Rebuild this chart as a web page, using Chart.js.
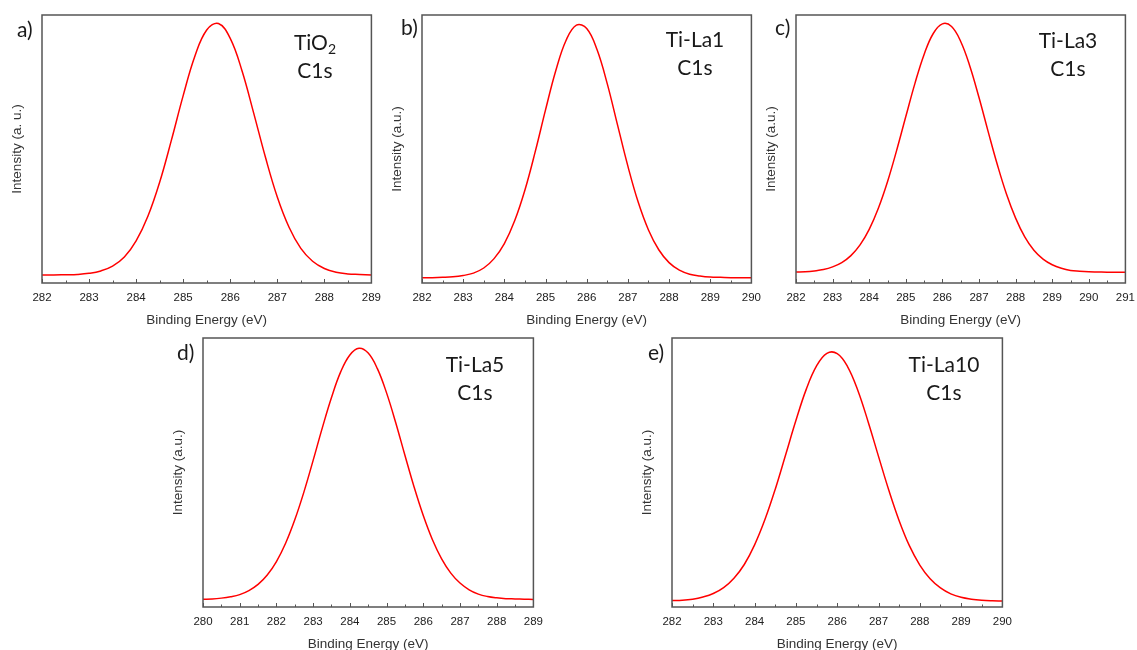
<!DOCTYPE html>
<html>
<head>
<meta charset="utf-8">
<script src="https://cdn.jsdelivr.net/npm/chart.js@4.4.1/dist/chart.umd.min.js"></script>
<style>
  body { margin: 0; width: 1137px; height: 650px; overflow: hidden; background: #fff; position: relative; }
  canvas { position: absolute; }
  .lbl { position: absolute; font-family: Lato, "Open Sans", sans-serif; font-size: 21px; line-height: 28px; color: #1a1a1a; white-space: nowrap; }
  .name { transform: translateX(-50%); text-align: center; }
  sub { font-size: 14px; vertical-align: -4px; line-height: 0; }
</style>
</head>
<body>
<canvas id="c0" width="389" height="335" style="left:0px;top:0px"></canvas>
<canvas id="c1" width="389" height="335" style="left:380px;top:0px"></canvas>
<canvas id="c2" width="389" height="335" style="left:754px;top:0px"></canvas>
<canvas id="c3" width="390" height="336" style="left:161px;top:323px"></canvas>
<canvas id="c4" width="390" height="336" style="left:630px;top:323px"></canvas>

<div class="lbl" style="left:17px;top:15px">a)</div>
<div class="lbl" style="left:401px;top:13px">b)</div>
<div class="lbl" style="left:775px;top:13px">c)</div>
<div class="lbl" style="left:177px;top:338px">d)</div>
<div class="lbl" style="left:648px;top:338px">e)</div>

<div class="lbl name" style="left:315px;top:28px">TiO<sub>2</sub><br>C1s</div>
<div class="lbl name" style="left:695px;top:25px">Ti-La1<br>C1s</div>
<div class="lbl name" style="left:1068px;top:26px">Ti-La3<br>C1s</div>
<div class="lbl name" style="left:475px;top:350px">Ti-La5<br>C1s</div>
<div class="lbl name" style="left:944px;top:350px">Ti-La10<br>C1s</div>

<script>
// binding energy grids (eV)
var energy282_289 = [282,282.25,282.5,282.75,283,283.25,283.5,283.75,284,284.25,284.5,284.75,285,285.25,285.5,285.75,286,286.25,286.5,286.75,287,287.25,287.5,287.75,288,288.25,288.5,288.75,289];
var energy282_290 = [282,282.25,282.5,282.75,283,283.25,283.5,283.75,284,284.25,284.5,284.75,285,285.25,285.5,285.75,286,286.25,286.5,286.75,287,287.25,287.5,287.75,288,288.25,288.5,288.75,289,289.25,289.5,289.75,290];
var energy282_291 = [282,282.25,282.5,282.75,283,283.25,283.5,283.75,284,284.25,284.5,284.75,285,285.25,285.5,285.75,286,286.25,286.5,286.75,287,287.25,287.5,287.75,288,288.25,288.5,288.75,289,289.25,289.5,289.75,290,290.25,290.5,290.75,291];
var energy280_289 = [280,280.25,280.5,280.75,281,281.25,281.5,281.75,282,282.25,282.5,282.75,283,283.25,283.5,283.75,284,284.25,284.5,284.75,285,285.25,285.5,285.75,286,286.25,286.5,286.75,287,287.25,287.5,287.75,288,288.25,288.5,288.75,289];

// C1s intensity (normalised, a.u.)
var tio2 = [0.030,0.030,0.031,0.032,0.036,0.045,0.063,0.097,0.157,0.249,0.376,0.533,0.699,0.847,0.944,0.968,0.913,0.792,0.633,0.468,0.321,0.208,0.129,0.081,0.054,0.040,0.034,0.032,0.030];
var tiLa1 = [0.020,0.020,0.021,0.023,0.028,0.037,0.056,0.091,0.147,0.232,0.347,0.490,0.646,0.793,0.906,0.962,0.950,0.871,0.743,0.589,0.436,0.302,0.198,0.124,0.076,0.048,0.033,0.026,0.022,0.021,0.020,0.020,0.020];
var tiLa3 = [0.041,0.042,0.045,0.050,0.060,0.076,0.102,0.142,0.200,0.279,0.378,0.495,0.621,0.745,0.853,0.931,0.967,0.957,0.901,0.809,0.692,0.565,0.442,0.332,0.242,0.172,0.122,0.089,0.068,0.055,0.047,0.044,0.042,0.041,0.040,0.040,0.040];
var tiLa5 = [0.029,0.030,0.033,0.038,0.046,0.061,0.084,0.119,0.169,0.237,0.324,0.428,0.545,0.666,0.779,0.874,0.937,0.962,0.944,0.886,0.796,0.685,0.564,0.446,0.340,0.250,0.179,0.126,0.089,0.064,0.048,0.039,0.034,0.031,0.030,0.029,0.028];
var tiLa10 = [0.024,0.025,0.029,0.037,0.050,0.072,0.107,0.158,0.231,0.325,0.438,0.565,0.693,0.809,0.896,0.943,0.942,0.894,0.805,0.688,0.560,0.434,0.321,0.227,0.156,0.105,0.071,0.049,0.036,0.029,0.025,0.023,0.022];

var axisMin = [282, 282, 282, 280, 282];
var axisMax = [289, 290, 291, 289, 290];
var yTitles = ['Intensity (a. u.)', 'Intensity (a.u.)', 'Intensity (a.u.)', 'Intensity (a.u.)', 'Intensity (a.u.)'];

var panels = [
  [energy282_289, tio2],
  [energy282_290, tiLa1],
  [energy282_291, tiLa3],
  [energy280_289, tiLa5],
  [energy282_290, tiLa10]
];

// box + inward ticks on the bottom axis
var frame = {
  id: 'frame',
  afterDatasetsDraw: function(chart) {
    var ctx = chart.ctx, a = chart.chartArea, x = chart.scales.x;
    ctx.save();
    ctx.strokeStyle = '#555';
    ctx.lineWidth = 1.5;
    ctx.strokeRect(a.left, a.top, a.right - a.left, a.bottom - a.top);
    ctx.beginPath();
    for (var v = x.min; v <= x.max + 1e-6; v += 0.5) {
      var px = Math.round(x.getPixelForValue(v)) + 0.5;
      var len = (Math.abs(v - Math.round(v)) < 1e-6) ? 4 : 2.5;
      ctx.moveTo(px, a.bottom);
      ctx.lineTo(px, a.bottom - len);
    }
    ctx.lineWidth = 1;
    ctx.stroke();
    ctx.restore();
  }
};

for (var i = 0; i < panels.length; i++) {
  var pts = [];
  for (var j = 0; j < panels[i][0].length; j++) {
    pts.push({x: panels[i][0][j], y: panels[i][1][j]});
  }
  new Chart(document.getElementById('c' + i), {
    type: 'line',
    data: {
      datasets: [{
        data: pts,
        borderColor: '#ff0000',
        borderWidth: 1.5,
        pointRadius: 0,
        fill: false,
        tension: 0.4
      }]
    },
    options: {
      responsive: false,
      animation: false,
      events: [],
      layout: { padding: { top: 15, right: 15, left: 0, bottom: 0 } },
      plugins: { legend: { display: false }, tooltip: { enabled: false } },
      scales: {
        x: {
          type: 'linear',
          min: axisMin[i],
          max: axisMax[i],
          grid: { display: false, drawTicks: false },
          border: { display: false },
          ticks: {
            stepSize: 1,
            maxRotation: 0,
            autoSkip: false,
            padding: 8,
            color: '#222',
            font: { family: 'Liberation Sans, Arial, sans-serif', size: 11.5 }
          },
          title: {
            display: true,
            text: 'Binding Energy (eV)',
            color: '#333',
            padding: { top: 0, bottom: 7 },
            font: { family: 'Liberation Sans, Arial, sans-serif', size: 13.5 }
          },
          afterFit: function(s) { s.height = 52; }
        },
        y: {
          min: 0,
          max: 1,
          grid: { display: false, drawTicks: false },
          border: { display: false },
          ticks: { display: false },
          title: {
            display: true,
            text: yTitles[i],
            color: '#333',
            padding: { top: 9, bottom: 0 },
            font: { family: 'Liberation Sans, Arial, sans-serif', size: 13.5 }
          },
          afterFit: function(s) { s.width = 42; }
        }
      }
    },
    plugins: [frame]
  });
}
</script>
</body>
</html>
